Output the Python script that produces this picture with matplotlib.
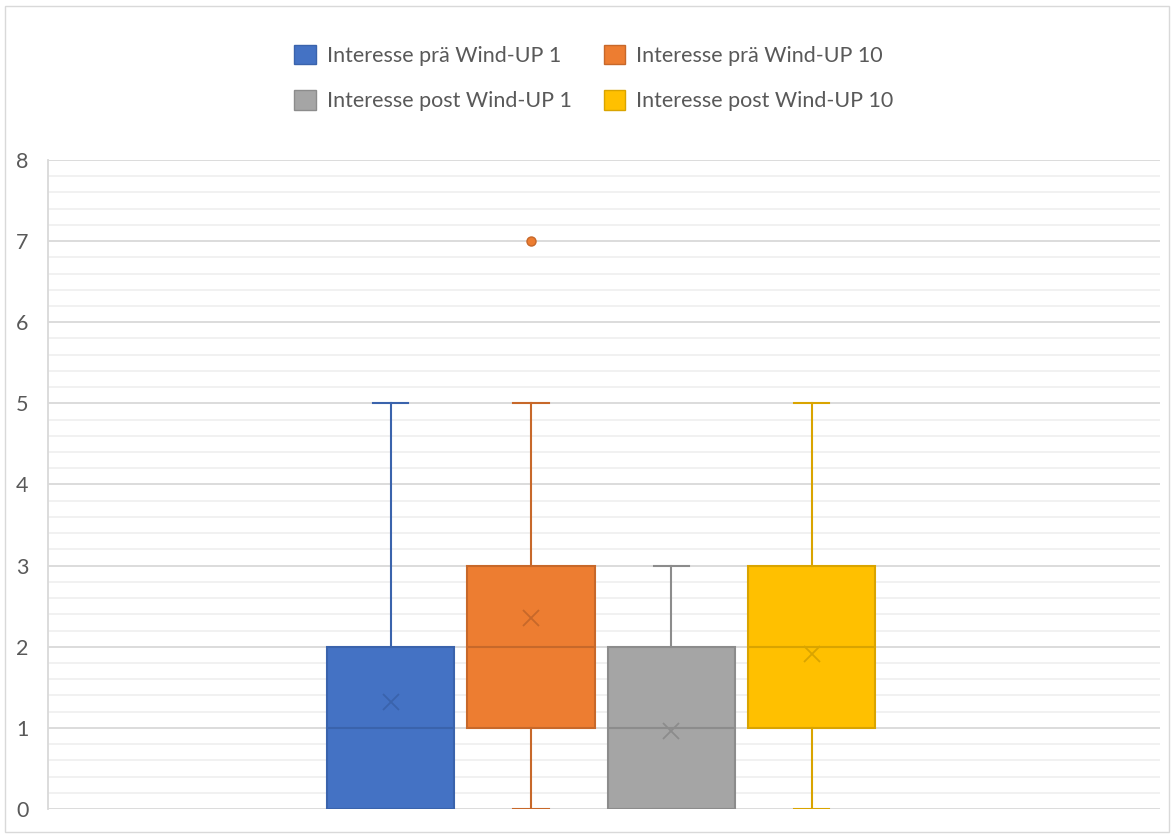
import matplotlib.pyplot as plt
from matplotlib.patches import Patch, Rectangle
from matplotlib.ticker import MultipleLocator

plt.rcParams['font.family'] = ['Lato', 'DejaVu Sans']

# Box statistics
serien = ["Interesse prä Wind-UP 1", "Interesse prä Wind-UP 10",
          "Interesse post Wind-UP 1", "Interesse post Wind-UP 10"]
minimum = [0, 0, 0, 0]
q1 = [0, 1, 0, 1]
median = [1, 2, 1, 2]
q3 = [2, 3, 2, 3]
maximum = [5, 5, 3, 5]
mittel = [1.32, 2.35, 0.96, 1.91]
ausreisser = [[], [7], [], []]

farben = ['#4472C4', '#ED7D31', '#A5A5A5', '#FFC000']
kanten = ['#3A63AC', '#C7682A', '#8C8C8C', '#D9A400']

fig = plt.figure(figsize=(11.74, 8.34), dpi=100)
ax = fig.add_axes([48/1174, 1-809/834, (1160-48)/1174, (809-160)/834])

for i in range(len(serien)):
    stats = [dict(med=median[i], q1=q1[i], q3=q3[i], whislo=minimum[i], whishi=maximum[i],
                  mean=mittel[i], fliers=ausreisser[i])]
    ax.bxp(stats, positions=[i], widths=0.905, patch_artist=True, showmeans=True,
           boxprops=dict(facecolor=farben[i], edgecolor=kanten[i], linewidth=1.5),
           medianprops=dict(color=kanten[i], linewidth=1.5),
           whiskerprops=dict(color=kanten[i], linewidth=1.5),
           capprops=dict(color=kanten[i], linewidth=1.5),
           capwidths=0.25,
           meanprops=dict(marker='x', markeredgecolor=kanten[i], markersize=12, markeredgewidth=1.3),
           flierprops=dict(marker='o', markerfacecolor=farben[i], markeredgecolor=kanten[i],
                           markersize=6.5))

ax.set_xlim(-2.44, 5.48)
ax.set_ylim(0, 8)
ax.yaxis.set_major_locator(MultipleLocator(1))
ax.yaxis.set_minor_locator(MultipleLocator(0.2))
ax.grid(axis='y', which='major', color='#D9D9D9', linewidth=1.3)
ax.grid(axis='y', which='minor', color='#F0F0F0', linewidth=1.3)
ax.set_axisbelow(True)
ax.set_xticks([])
ax.tick_params(axis='y', which='both', length=0, labelsize=15.5, labelcolor='#595959', pad=14)
for s in ['top', 'right', 'bottom']:
    ax.spines[s].set_visible(False)
ax.spines['left'].set_color('#D9D9D9')
ax.spines['left'].set_linewidth(1.3)

# legend fills column-wise, so order gives rows: blue/orange, gray/yellow
reihenfolge = [0, 2, 1, 3]
handles = [Patch(facecolor=farben[i], edgecolor=kanten[i], label=serien[i]) for i in reihenfolge]
fig.legend(handles=handles, ncol=2, loc='center', bbox_to_anchor=(594/1174, 1-78/834), frameon=False,
           fontsize=15.5, labelcolor='#595959', handlelength=1.0, handleheight=1.0,
           columnspacing=1.5, handletextpad=0.5, labelspacing=1.15)

fig.patches.append(Rectangle((5/1174, 2/834), 1164/1174, 826/834, transform=fig.transFigure,
                             fill=False, edgecolor='#D9D9D9', linewidth=1))

fig.savefig('out.png', dpi=100)
